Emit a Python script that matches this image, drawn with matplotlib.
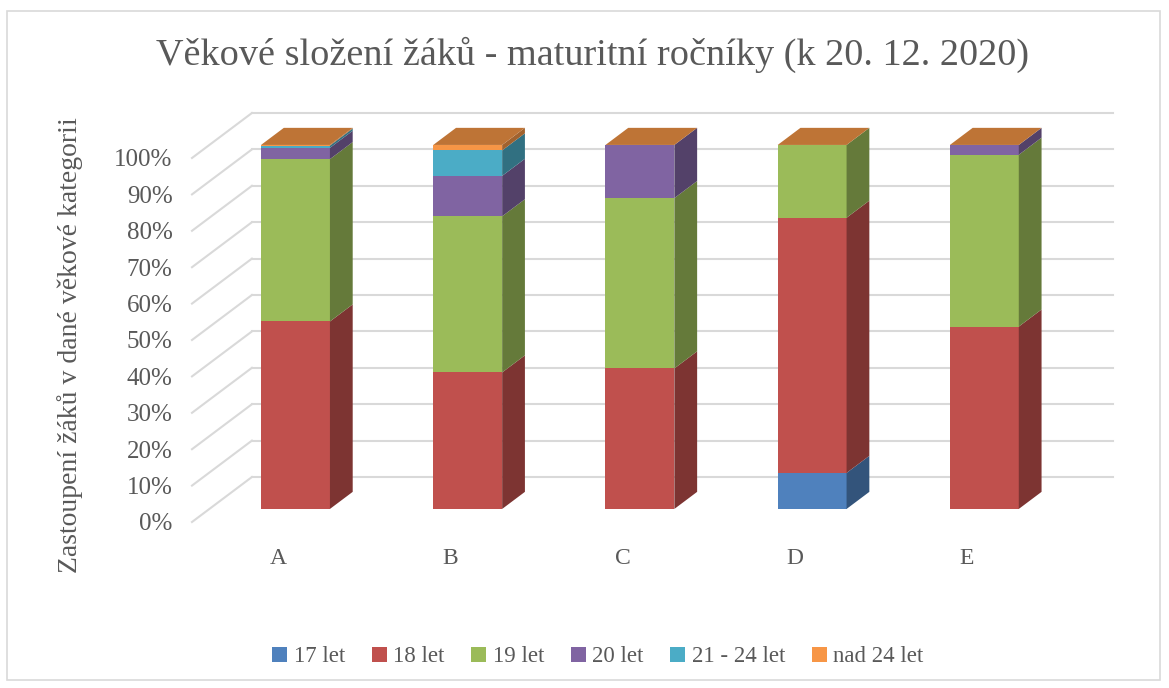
"""Věkové složení žáků - stacked 3D-look column chart."""

import matplotlib

matplotlib.use("Agg")
import matplotlib.pyplot as plt
import numpy as np
from matplotlib.colors import to_rgb
from matplotlib.patches import Patch, Polygon, Rectangle

categories = ["A", "B", "C", "D", "E"]
series = ["17 let", "18 let", "19 let", "20 let", "21 - 24 let", "nad 24 let"]
colors = ["#4F81BD", "#C0504D", "#9BBB59", "#8064A2", "#4BACC6", "#F79646"]

# percent share of each age group, per class (columns A..E)
age_17 = [0.0, 0.0, 0.0, 9.9, 0.0]
age_18 = [51.5, 37.5, 38.6, 70.1, 50.1]
age_19 = [44.6, 42.9, 46.8, 20.0, 47.2]
age_20 = [3.1, 11.1, 14.6, 0.0, 2.7]
age_21_24 = [0.6, 7.0, 0.0, 0.0, 0.0]
age_over_24 = [0.2, 1.5, 0.0, 0.0, 0.0]

yticks = [0, 10, 20, 30, 40, 50, 60, 70, 80, 90, 100]

title = "Věkové složení žáků - maturitní ročníky (k 20. 12. 2020)"
ylabel = "Zastoupení žáků v dané věkové kategorii"

W, H = 1169, 688
plt.rcParams["font.family"] = ["Liberation Serif", "DejaVu Serif"]
GREY = "#595959"
GRID = "#D9D9D9"

# pseudo-3D geometry: depth offset of the back wall in data units
DX = 0.348
DY = 12.36
BAR_W = 0.4
D0, D1 = 0.29, 0.67  # bar front / back depth as a fraction of the wall depth


def shade(c, f):
    r, g, b = to_rgb(c)
    return (r * f, g * f, b * f)


def at(x, y, d):
    return (x + d * DX, y + d * DY)


fig = plt.figure(figsize=(W / 100, H / 100), dpi=100)
ax = fig.add_axes([192 / W, (H - 522) / H, (1113 - 192) / W, (522 - 113) / H])
ax.set_xlim(0, len(categories) + DX)
ax.set_ylim(0, 100 + DY)
for s in ax.spines.values():
    s.set_visible(False)

n = len(categories)
# back wall and side wall gridlines
for t in yticks:
    ax.plot([DX, n + DX], [t + DY, t + DY], color=GRID, lw=1.5, zorder=1,
            clip_on=False)
    ax.plot([0, DX], [t, t + DY], color=GRID, lw=1.5, zorder=1, clip_on=False)

data = np.array([age_17, age_18, age_19, age_20, age_21_24, age_over_24])
bottoms = np.zeros(n)
for k, vals in enumerate(data):
    for i, v in enumerate(vals):
        if v <= 0:
            continue
        xc = i + 0.5
        xl, xr = xc - BAR_W / 2, xc + BAR_W / 2
        y0, y1 = bottoms[i], bottoms[i] + v
        fx, fy = at(xl, y0, D0)
        ax.add_patch(Rectangle((fx, fy), BAR_W, v, facecolor=colors[k],
                               edgecolor="none", zorder=3))
        side = [at(xr, y0, D0), at(xr, y0, D1), at(xr, y1, D1), at(xr, y1, D0)]
        ax.add_patch(Polygon(side, closed=True, facecolor=shade(colors[k], 0.65),
                             edgecolor="none", zorder=3))
    bottoms += vals

# top face of every column (takes the colour of the last series)
for i in range(n):
    xc = i + 0.5
    xl, xr = xc - BAR_W / 2, xc + BAR_W / 2
    y = bottoms[i]
    top = [at(xl, y, D0), at(xr, y, D0), at(xr, y, D1), at(xl, y, D1)]
    ax.add_patch(Polygon(top, closed=True, facecolor=shade(colors[-1], 0.77),
                         edgecolor="none", zorder=4))

ax.set_yticks(yticks)
ax.set_yticklabels([f"{t}%" for t in yticks], fontsize=18, color=GREY)
ax.set_xticks(np.arange(n) + 0.5)
ax.set_xticklabels(categories, fontsize=17, color=GREY)
ax.tick_params(axis="y", length=0, pad=14)
ax.tick_params(axis="x", length=0, pad=19)

fig.text(70 / W, 1 - 345 / H, ylabel, rotation=90, ha="center", va="center",
         fontsize=20, color=GREY)
fig.text(592 / W, 1 - 55 / H, title, ha="center", va="center",
         fontsize=27.5, color=GREY)

handles = [Patch(facecolor=c, edgecolor="none") for c in colors]
fig.legend(handles, series, loc="center", bbox_to_anchor=(598 / W, 1 - 657 / H),
           ncol=6, frameon=False, fontsize=16.5, labelcolor=GREY,
           handlelength=0.65, handleheight=0.65, handletextpad=0.3,
           columnspacing=1.15)

fig.add_artist(Rectangle((7 / W, 1 - 680 / H), (1160 - 7) / W, (680 - 11) / H,
                         transform=fig.transFigure, fill=False,
                         edgecolor=GRID, lw=1.2))

fig.savefig("out.png", dpi=100)
